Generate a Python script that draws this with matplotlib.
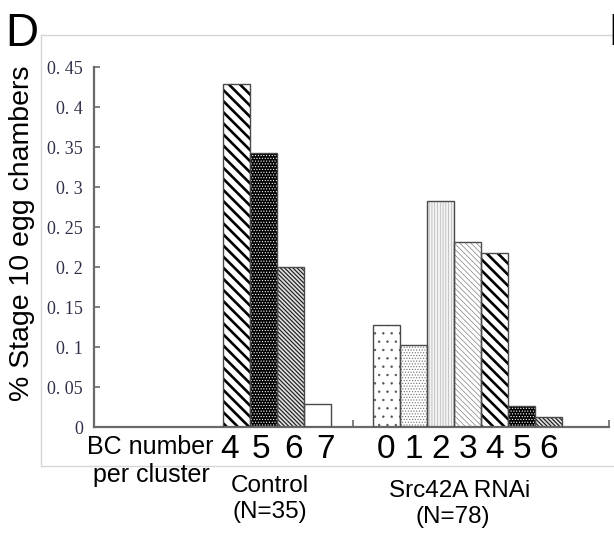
import numpy as np
import matplotlib
matplotlib.use("Agg")
import matplotlib.pyplot as plt
from matplotlib.lines import Line2D

# =============================================================================
# Data (fractions)
# =============================================================================
ctrl_bc = ["4", "5", "6", "7"]
ctrl_frac = [0.429, 0.343, 0.200, 0.029]

src_bc = ["0", "1", "2", "3", "4", "5", "6"]
src_frac = [0.128, 0.103, 0.282, 0.231, 0.218, 0.026, 0.013]

y_ticks = [0, 0.05, 0.1, 0.15, 0.2, 0.25, 0.3, 0.35, 0.4, 0.45]

# bar fill styles: (face, hatch, hatch colour, hatch linewidth)
# (each hatch character gives 6 lines per inch)
thick_diag = ("white", "\\" * 3, "black", 1.9)
black_dots = ("black", "." * 6, "white", 0.5)
grey_diag = ("#e0e0e0", "\\" * 8, "#1e1e1e", 0.85)
ctrl_styles = [thick_diag, black_dots, grey_diag, ("white", "", "#555555", 0.5)]
src_styles = [
    ("white", "." * 2, "#555555", 0.5),
    ("white", "." * 6, "#707070", 0.5),
    ("#f4f4f4", "|" * 6, "#b0b0b0", 0.5),
    ("white", "\\" * 6, "#808080", 0.5),
    thick_diag,
    black_dots,
    grey_diag,
]

W, H = 614, 533


def px(x, y):
    return x / W, 1 - y / H


def draw_bar(ax, x, h, style):
    face, hatch, hcol, hlw = style
    with plt.rc_context({"hatch.linewidth": hlw, "hatch.color": hcol}):
        bars = ax.bar(x, h, width=1, color=face, edgecolor=hcol,
                      hatch=hatch if hatch else None, linewidth=0, zorder=2)
    for b in bars:
        if hasattr(b, "set_hatch_linewidth"):
            b.set_hatch_linewidth(hlw)
    ax.bar(x, h, width=1, fill=False, edgecolor="#4a4a4a", linewidth=1.0, zorder=3)


fig = plt.figure(figsize=(W / 100, H / 100), dpi=100)
fig.patch.set_facecolor("white")

# light grey chart-area frame (top, left, bottom only; right runs off the panel)
for (x0, y0), (x1, y1) in [((41, 35), (614, 35)), ((41, 35), (41, 466)), ((41, 466), (614, 466))]:
    fig.add_artist(Line2D([x0 / W, x1 / W], [1 - y0 / H, 1 - y1 / H],
                          color="#d6d6d6", linewidth=1.0))

ax = fig.add_axes([94 / W, 106 / H, 515 / W, 360 / H])
ax.set_xlim(0, 19)
ax.set_ylim(0, 0.45)

# category positions
ctrl_x = 4.76 + 0.5 + np.arange(len(ctrl_frac))
src_x = 10.28 + 0.5 + np.arange(len(src_frac))

for x, h, st in zip(ctrl_x, ctrl_frac, ctrl_styles):
    draw_bar(ax, x, h, st)
for x, h, st in zip(src_x, src_frac, src_styles):
    draw_bar(ax, x, h, st)

for s in ["top", "right"]:
    ax.spines[s].set_visible(False)
for s in ["left", "bottom"]:
    ax.spines[s].set_color("#6a6a6a")
    ax.spines[s].set_linewidth(1.6)

ax.set_yticks(y_ticks)
ax.set_yticklabels([("%g" % v).replace(".", ". ") for v in y_ticks],
                   fontfamily="Liberation Serif", fontsize=13, color="#30304a")
ax.tick_params(axis="y", direction="in", length=4.5, width=1.2, color="#6a6a6a", pad=8)

ax.set_xticks([])
ax.set_xticks([9.54, 19], minor=True)
ax.tick_params(axis="x", which="minor", direction="in", length=5, width=1.2,
               color="#6a6a6a", labelbottom=False)

# BC number labels under the bars
xform = ax.get_xaxis_transform()
base = (H - 458 - 106) / 360
ctrl_lab_x = ctrl_x.mean() + (np.arange(len(ctrl_bc)) - 1.5) * 1.18
for x, t in zip(ctrl_lab_x, ctrl_bc):
    ax.text(x, base, t, transform=xform, ha="center", va="baseline",
            fontsize=24, fontfamily="Liberation Sans", clip_on=False)
for x, t in zip(src_x, src_bc):
    ax.text(x, base, t, transform=xform, ha="center", va="baseline",
            fontsize=24, fontfamily="Liberation Sans", clip_on=False)

sans = dict(fontfamily="Liberation Sans", ha="center", va="baseline", color="black")
fig.text(*px(150, 454), "BC number", fontsize=18, **sans)
fig.text(*px(151, 482), "per cluster", fontsize=18, **sans)
fig.text(*px(270, 492), "Control", fontsize=17.5, **sans)
fig.text(*px(270, 518), "(N=35)", fontsize=17.5, **sans)
fig.text(*px(460, 497), "Src42A RNAi", fontsize=17.5, **sans)
fig.text(*px(453, 523), "(N=78)", fontsize=17.5, **sans)

fig.text(*px(22, 233), "% Stage 10 egg chambers", rotation=90, ha="center", va="center",
         fontsize=20.5, fontfamily="Liberation Sans")

# panel letters (E belongs to the neighbouring panel, cut at the edge)
fig.text(*px(5, 46), "D", fontsize=33, fontfamily="Liberation Sans", ha="left", va="baseline")
fig.text(*px(608, 45), "E", fontsize=32, fontfamily="Liberation Sans", ha="left", va="baseline")

fig.savefig("out.png", dpi=100, facecolor="white")
